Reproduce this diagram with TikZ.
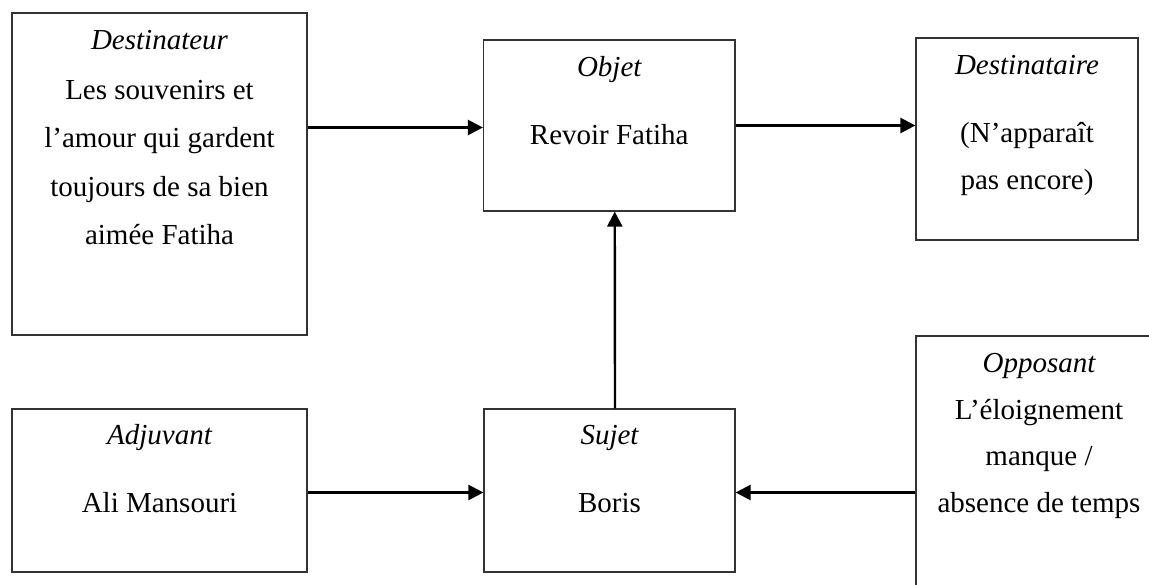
\documentclass[tikz,border=0pt]{standalone}
\usepackage{fontspec}
\setmainfont{Liberation Serif}
\usetikzlibrary{arrows.meta,calc}
\begin{document}
\begin{tikzpicture}[x=1pt,y=-1pt,
  box/.style={draw=black!80, line width=1.2pt, rectangle, inner sep=0pt},
  ttl/.style={anchor=base, inner sep=0pt, font=\fontsize{29}{34}\selectfont\itshape},
  txt/.style={anchor=base, inner sep=0pt, font=\fontsize{29}{34}\selectfont},
  arr/.style={line width=2.4pt, -{Triangle[length=15pt,width=15pt]}}]
\useasboundingbox (0,0) rectangle (1149,585);
\clip (0,0) rectangle (1149,585);
% boxes
\node[box, minimum width=295pt, minimum height=322pt] (dtr) at (159.5,174) {};
\node[box, minimum width=251.5pt, minimum height=171pt] (obj) at (609.25,125.5) {};
\node[box, minimum width=222pt, minimum height=202pt] (dst) at (1027,139) {};
\node[box, minimum width=295pt, minimum height=163pt] (adj) at (159.5,490.5) {};
\node[box, minimum width=251pt, minimum height=163pt] (suj) at (609.5,490.5) {};
\node[box, minimum width=246pt, minimum height=274pt] (opp) at (1039,473) {};
% texts
\node[ttl] (dtrT) at ($(dtr.north)+(0,37)$) {Destinateur};
\node[txt] (dtr1) at ($(dtr.north)+(0,87)$) {Les souvenirs et};
\node[txt] (dtr2) at ($(dtr.north)+(0,135)$) {l’amour qui gardent};
\node[txt] (dtr3) at ($(dtr.north)+(0,184)$) {toujours de sa bien};
\node[txt] (dtr4) at ($(dtr.north)+(0,232)$) {aimée Fatiha};
\node[ttl] (objT) at ($(obj.north)+(0,37)$) {Objet};
\node[txt] (obj1) at ($(obj.north)+(0,105)$) {Revoir Fatiha};
\node[ttl] (dstT) at ($(dst.north)+(0,37)$) {Destinataire};
\node[txt] (dst1) at ($(dst.north)+(0,105)$) {(N’apparaît};
\node[txt] (dst2) at ($(dst.north)+(0,152)$) {pas encore)};
\node[ttl] (adjT) at ($(adj.north)+(0,36)$) {Adjuvant};
\node[txt] (adj1) at ($(adj.north)+(0,104)$) {Ali Mansouri};
\node[ttl] (sujT) at ($(suj.north)+(0,36)$) {Sujet};
\node[txt] (suj1) at ($(suj.north)+(0,104)$) {Boris};
\node[ttl] (oppT) at ($(opp.north)+(0,37)$) {Opposant};
\node[txt] (opp1) at ($(opp.north)+(0,84)$) {L’éloignement};
\node[txt] (opp2) at ($(opp.north)+(0,130)$) {manque /};
\node[txt] (opp3) at ($(opp.north)+(0,177)$) {absence de temps};
% connectors
\draw[arr] ([yshift=-2pt]obj.west -| dtr.east) -- ([yshift=-2pt]obj.west);
\draw[arr] (obj.east) -- (obj.east -| dst.west);
\draw[arr] ([xshift=5.5pt]suj.north) -- ([xshift=5.5pt]obj.south);
\draw[arr] ([yshift=-2pt]adj.east) -- ([yshift=-2pt]suj.west);
\draw[arr] ([yshift=-2pt]suj.east -| opp.west) -- ([yshift=-2pt]suj.east);
\end{tikzpicture}
\end{document}
